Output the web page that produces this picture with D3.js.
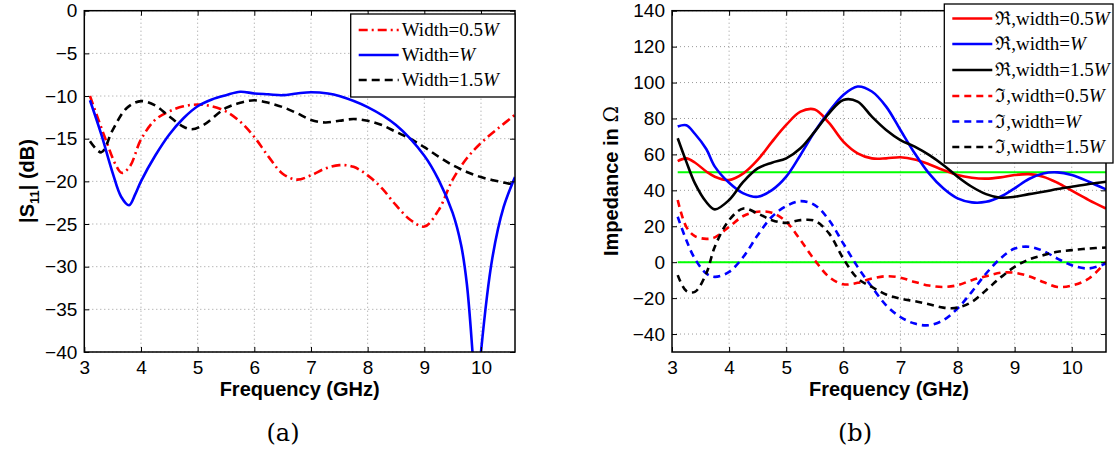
<!DOCTYPE html>
<html>
<head>
<meta charset="utf-8">
<script src="https://cdn.jsdelivr.net/npm/d3@7"></script>
<style>
  body { margin: 0; background: #fff; }
  svg text { fill: #000; }
</style>
</head>
<body>
<svg id="chart" width="1115" height="452"></svg>
<script>
// ---- data (frequency in GHz) ----
var freqA = [3.1, 3.25, 3.4, 3.55, 3.66, 3.8, 4.0, 4.25, 4.5, 4.75, 5.0, 5.25, 5.5, 5.75, 6.0, 6.25, 6.5, 6.75, 7.0, 7.25, 7.5, 7.75, 8.0, 8.25, 8.5, 8.75, 9.0, 9.25, 9.5, 9.75, 10.0, 10.3, 10.6];
var s11Half = [-10, -12.8, -15.5, -18.0, -19.0, -18.3, -15.1, -12.8, -11.8, -11.2, -11.0, -11.2, -11.8, -13.0, -14.8, -17.1, -19.1, -19.8, -19.3, -18.5, -18.1, -18.3, -19.3, -20.8, -22.8, -24.5, -25.3, -23.4, -19.8, -17.3, -15.5, -13.8, -12.2];

var freqW = [3.1, 3.3, 3.5, 3.65, 3.79, 3.9, 4.0, 4.25, 4.5, 4.75, 5.0, 5.25, 5.5, 5.75, 6.0, 6.25, 6.5, 6.75, 7.0, 7.3, 7.5, 8.0, 8.5, 9.0, 9.25, 9.5, 9.65, 9.75, 9.85, 9.92, 10.0, 10.2, 10.4, 10.6];
var s11W = [-10.5, -14.5, -19.0, -21.8, -22.8, -21.5, -20.0, -17.0, -14.5, -12.6, -11.2, -10.4, -9.9, -9.5, -9.7, -9.8, -9.9, -9.7, -9.55, -9.7, -10.0, -11.3, -13.4, -17.0, -19.8, -23.7, -27.5, -32.0, -40.0, -47.0, -40.0, -29.0, -23.0, -19.5];

var freqB = [3.1, 3.3, 3.5, 3.75, 4.0, 4.25, 4.5, 4.75, 4.9, 5.1, 5.5, 5.75, 6.0, 6.25, 6.5, 6.75, 7.0, 7.25, 7.5, 7.75, 8.0, 8.25, 8.5, 8.75, 9.0, 9.25, 9.5, 9.75, 10.0, 10.3, 10.6];
var s11OneHalf = [-15.3, -16.6, -14.0, -11.4, -10.6, -11.1, -12.4, -13.6, -13.9, -13.4, -11.4, -10.8, -10.5, -10.8, -11.3, -12.0, -12.8, -13.1, -12.9, -12.7, -12.9, -13.4, -14.2, -15.0, -16.0, -17.1, -18.1, -18.9, -19.5, -20.0, -20.4];

var freqZ = [3.1, 3.25, 3.4, 3.6, 3.75, 4.0, 4.25, 4.5, 4.75, 5.0, 5.25, 5.5, 5.75, 6.0, 6.25, 6.5, 6.75, 7.0, 7.25, 7.5, 7.75, 8.0, 8.25, 8.5, 8.75, 9.0, 9.25, 9.5, 9.75, 10.0, 10.3, 10.6];
var reHalf = [56.3, 57.8, 55.5, 50.5, 47.6, 45.7, 49.4, 56.9, 67.0, 76.4, 83.8, 85.0, 77.5, 67.1, 60.6, 57.8, 57.8, 58.4, 57.2, 54.5, 51.3, 48.5, 47.0, 46.5, 47.2, 48.5, 49.0, 47.6, 44.2, 39.8, 34.6, 29.9];
var reW = [75.5, 76.2, 71.5, 63.0, 53.2, 44.2, 38.3, 36.4, 40.1, 47.6, 59.7, 72.7, 83.8, 93.1, 97.8, 95.0, 86.6, 73.6, 60.6, 49.4, 41.1, 35.5, 33.3, 33.6, 36.4, 41.1, 46.3, 49.4, 50.0, 48.5, 44.8, 40.5];
var reOneHalf = [69.0, 56.0, 44.0, 33.5, 29.4, 34.6, 44.8, 52.2, 55.4, 57.8, 63.4, 72.7, 82.9, 90.3, 89.4, 81.0, 73.6, 68.0, 64.3, 59.7, 54.1, 47.6, 42.0, 37.9, 35.9, 36.4, 37.9, 39.2, 40.7, 42.0, 43.5, 44.8];
var imHalf = [34.6, 19.7, 14.5, 13.0, 13.8, 19.7, 25.7, 28.1, 27.5, 22.5, 12.3, 1.1, -8.2, -12.3, -11.5, -9.1, -7.8, -8.6, -11.0, -13.0, -13.8, -12.8, -10.0, -7.8, -5.9, -5.9, -7.8, -11.0, -13.8, -13.0, -9.1, 0.2];
var imW = [25.3, 12.3, 2.0, -6.3, -8.2, -5.4, 3.0, 15.0, 25.3, 31.2, 34.0, 31.8, 23.4, 10.4, -2.6, -13.8, -24.0, -30.5, -34.2, -35.1, -32.3, -25.8, -16.5, -6.3, 2.0, 7.6, 8.6, 6.3, 2.0, -1.7, -3.5, -0.7];
var imOneHalf = [-7.2, -16.0, -16.5, -6.3, 8.6, 23.4, 29.9, 27.1, 23.4, 21.9, 23.4, 23.0, 16.0, 2.0, -9.0, -13.8, -18.0, -20.3, -21.7, -23.4, -25.3, -25.3, -22.1, -15.6, -8.6, -2.6, 1.5, 3.9, 5.8, 6.7, 7.6, 8.2];

var freqTicks = [3, 4, 5, 6, 7, 8, 9, 10];
var s11Ticks = [0, -5, -10, -15, -20, -25, -30, -35, -40];
var zTicks = [-40, -20, 0, 20, 40, 60, 80, 100, 120, 140];
var refLevels = [50, 0];

var legendA = ["Width=0.5", "Width=", "Width=1.5"];
var legendB = ["\u211C,width=0.5", "\u211C,width=", "\u211C,width=1.5", "\u2111,width=0.5", "\u2111,width=", "\u2111,width=1.5"];

var svg = d3.select("#chart");
var minus = function(v) { return String(v).replace("-", "\u2212"); };

function panel(opt) {
  var x = d3.scaleLinear().domain([3, 10.6]).range([opt.left, opt.right]);
  var y = d3.scaleLinear().domain(opt.ydom).range([352, 10.7]);
  var g = svg.append("g");

  // grid
  g.selectAll(".gx").data(freqTicks.slice(1)).enter().append("line")
    .attr("x1", d => x(d)).attr("x2", d => x(d)).attr("y1", y.range()[1]).attr("y2", y.range()[0])
    .attr("stroke", "#9a9a9a").attr("stroke-width", 1).attr("stroke-dasharray", "1,3");
  g.selectAll(".gy").data(opt.yticks).enter().append("line")
    .attr("x1", x.range()[0]).attr("x2", x.range()[1]).attr("y1", d => y(d)).attr("y2", d => y(d))
    .attr("stroke", "#9a9a9a").attr("stroke-width", 1).attr("stroke-dasharray", "1,3");

  var clipId = "clip" + Math.round(opt.left);
  g.append("clipPath").attr("id", clipId).append("rect")
    .attr("x", x.range()[0]).attr("y", y.range()[1])
    .attr("width", x.range()[1] - x.range()[0]).attr("height", y.range()[0] - y.range()[1]);

  var plot = g.append("g").attr("clip-path", "url(#" + clipId + ")");

  (opt.refs || []).forEach(function(r) {
    plot.append("line").attr("x1", x(3.1)).attr("x2", x(10.6)).attr("y1", y(r)).attr("y2", y(r))
      .attr("stroke", "#00ff00").attr("stroke-width", 2);
  });

  opt.series.forEach(function(s) {
    var line = d3.line().x(d => x(d[0])).y(d => y(d[1])).curve(d3.curveCatmullRom.alpha(0.5));
    plot.append("path").datum(d3.zip(s.f, s.v))
      .attr("fill", "none").attr("stroke", s.color).attr("stroke-width", 2.6)
      .attr("stroke-dasharray", s.dash || null).attr("d", line);
  });

  // axes with inward ticks on all sides
  var ax = g.append("g").attr("font-family", "'Liberation Sans', Arial, sans-serif").attr("font-size", 19);
  var xb = d3.axisBottom(x).tickValues(freqTicks).tickSizeInner(-5).tickSizeOuter(0).tickPadding(9);
  var xt = d3.axisTop(x).tickValues(freqTicks).tickSizeInner(-5).tickSizeOuter(0).tickFormat("");
  var yl = d3.axisLeft(y).tickValues(opt.yticks).tickSizeInner(-5).tickSizeOuter(0).tickPadding(7).tickFormat(minus);
  var yr = d3.axisRight(y).tickValues(opt.yticks).tickSizeInner(-5).tickSizeOuter(0).tickFormat("");
  [[xb, "translate(0,352)"], [xt, "translate(0,10.7)"], [yl, "translate(" + opt.left + ",0)"], [yr, "translate(" + opt.right + ",0)"]]
    .forEach(function(a) {
      var s = ax.append("g").attr("transform", a[1]).call(a[0]);
      s.attr("font-family", null).attr("font-size", null);
      s.select(".domain").remove();
      s.selectAll("line").attr("stroke", "#000");
      s.selectAll("text").attr("fill", "#000");
    });
  g.append("rect").attr("x", x.range()[0]).attr("y", y.range()[1])
    .attr("width", x.range()[1] - x.range()[0]).attr("height", y.range()[0] - y.range()[1])
    .attr("fill", "none").attr("stroke", "#000").attr("stroke-width", 1.5);

  g.append("text").attr("x", (opt.left + opt.right) / 2).attr("y", 396)
    .attr("text-anchor", "middle").attr("font-family", "'Liberation Sans', Arial, sans-serif")
    .attr("font-weight", "bold").attr("font-size", 20).text("Frequency (GHz)");

  g.append("text").attr("x", opt.caption[0]).attr("y", 441).attr("text-anchor", "middle")
    .attr("font-family", "'DejaVu Serif', serif").attr("font-size", 24).text(opt.caption[1]);

  return { x: x, y: y, g: g };
}

// ---- panel (a) ----
var pa = panel({
  left: 84.3, right: 515, ydom: [-40, 0], yticks: s11Ticks, caption: [283, "(a)"],
  series: [
    { f: freqA, v: s11Half, color: "#ff0000", dash: "9,4,2,4" },
    { f: freqB, v: s11OneHalf, color: "#000000", dash: "8,5" },
    { f: freqW, v: s11W, color: "#0000ff" }
  ]
});
var ylabA = pa.g.append("text").attr("transform", "translate(34,181) rotate(-90)").attr("text-anchor", "middle")
  .attr("font-family", "'Liberation Sans', Arial, sans-serif").attr("font-weight", "bold").attr("font-size", 20);
ylabA.append("tspan").text("|S");
ylabA.append("tspan").attr("font-size", 13).attr("dy", 5).text("11");
ylabA.append("tspan").attr("dy", -5).text("| (dB)");

// ---- panel (b) ----
var pb = panel({
  left: 672, right: 1106, ydom: [-50, 140], yticks: zTicks, caption: [855, "(b)"], refs: refLevels,
  series: [
    { f: freqZ, v: reHalf, color: "#ff0000" },
    { f: freqZ, v: reW, color: "#0000ff" },
    { f: freqZ, v: reOneHalf, color: "#000000" },
    { f: freqZ, v: imHalf, color: "#ff0000", dash: "7,5" },
    { f: freqZ, v: imW, color: "#0000ff", dash: "7,5" },
    { f: freqZ, v: imOneHalf, color: "#000000", dash: "7,5" }
  ]
});
var ylabB = pb.g.append("text").attr("transform", "translate(618,181) rotate(-90)").attr("text-anchor", "middle")
  .attr("font-family", "'Liberation Sans', Arial, sans-serif").attr("font-weight", "bold").attr("font-size", 20);
ylabB.append("tspan").text("Impedance in ");
ylabB.append("tspan").attr("font-weight", "normal").attr("font-family", "'DejaVu Serif', serif").text("\u03A9");

// ---- legends ----
function legend(box, labels, styles, rowY) {
  var lg = svg.append("g");
  lg.append("rect").attr("x", box[0]).attr("y", box[1]).attr("width", box[2]).attr("height", box[3])
    .attr("fill", "#fff").attr("stroke", "#000").attr("stroke-width", 1.3);
  labels.forEach(function(t, i) {
    var yy = rowY[i];
    lg.append("line").attr("x1", box[0] + 8).attr("x2", box[0] + 48).attr("y1", yy).attr("y2", yy)
      .attr("stroke", styles[i].color).attr("stroke-width", 2.6).attr("stroke-dasharray", styles[i].dash || null);
    var tx = lg.append("text").attr("x", box[0] + 51).attr("y", yy + 6)
      .attr("font-family", "'Liberation Serif', 'Times New Roman', serif").attr("font-size", 19);
    tx.append("tspan").text(t);
    tx.append("tspan").attr("font-style", "italic").text("W");
  });
}
legend([350.7, 14, 164.3, 83], legendA,
  [{ color: "#ff0000", dash: "9,4,2,4" }, { color: "#0000ff" }, { color: "#000", dash: "8,5" }],
  [30, 55, 80]);
legend([944.3, 4, 168.7, 159], legendB,
  [{ color: "#ff0000" }, { color: "#0000ff" }, { color: "#000" },
   { color: "#ff0000", dash: "7,5" }, { color: "#0000ff", dash: "7,5" }, { color: "#000", dash: "7,5" }],
  [18.5, 44, 70, 96, 121.5, 147]);
</script>
</body>
</html>
